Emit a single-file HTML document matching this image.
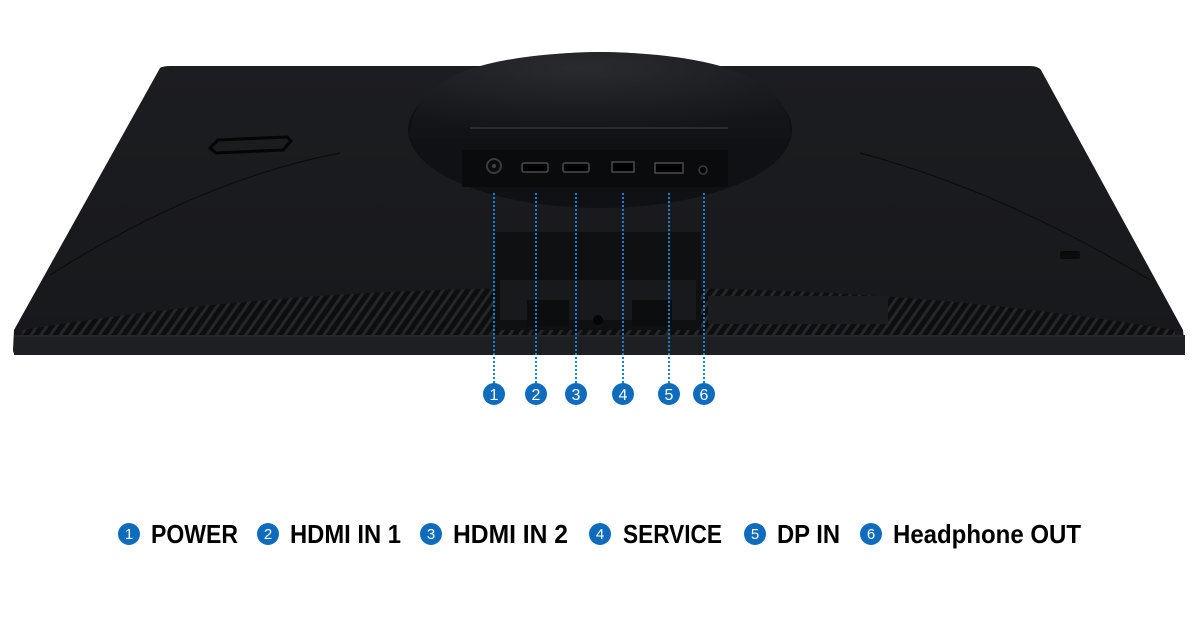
<!DOCTYPE html>
<html><head><meta charset="utf-8"><style>
html,body{margin:0;padding:0;background:#fff;}
svg{display:block}
</style></head><body>
<svg width="1200" height="634" viewBox="0 0 1200 634" xmlns="http://www.w3.org/2000/svg">
<defs>
<linearGradient id="body" x1="0" y1="0" x2="0" y2="1">
<stop offset="0" stop-color="#1c1d20"/><stop offset="1" stop-color="#17181b"/>
</linearGradient>
<radialGradient id="disc" cx="0.45" cy="0.2" r="0.8">
<stop offset="0" stop-color="#2a2b2f"/><stop offset="1" stop-color="#141518"/>
</radialGradient>
<pattern id="vent" width="8" height="8" patternUnits="userSpaceOnUse" patternTransform="rotate(35)">
<rect width="8" height="8" fill="#0d0e10"/><rect width="3" height="8" fill="#25262a"/>
</pattern>
</defs>
<!-- monitor body -->
<path d="M160 68 Q163 66 170 66 L1030 66 Q1038 66 1041 70 L1183 330 L1185 352 Q1185 355 1180 355 L18 355 Q13 355 13 350 L14 330 Z" fill="url(#body)"/>
<!-- vents -->
<path d="M22 330 Q300 285 600 288 Q900 285 1175 330 L1175 336 L22 336 Z" fill="url(#vent)"/>
<rect x="14" y="335" width="1171" height="20" fill="#1e1f22"/>
<line x1="14" y1="336" x2="1185" y2="336" stroke="#2c2d31" stroke-width="1"/>
<!-- panel lines -->
<path d="M50 275 Q200 180 340 153" stroke="#0c0d0f" stroke-width="1.2" fill="none"/>
<path d="M860 153 Q1000 190 1150 280" stroke="#0c0d0f" stroke-width="1.2" fill="none"/>
<!-- logo -->
<path d="M210 148 L218 140 L287 137 L291 141 L283 150 L216 153 Z" fill="none" stroke="#050506" stroke-width="3"/>
<rect x="1060" y="251" width="20" height="8" rx="2" fill="#0b0b0c"/>
<!-- label sticker -->
<rect x="708" y="296" width="180" height="28" fill="#1b1c1f"/>
<!-- stand disc -->
<ellipse cx="600" cy="130" rx="192" ry="78" fill="#101114"/>
<path d="M412 125 Q420 55 600 52 Q780 55 790 125 L790 130 L412 130 Z" fill="url(#disc)"/>
<rect x="410" y="128" width="380" height="10" fill="#121316"/>
<rect x="470" y="127" width="258" height="2" fill="#2a2b2e"/>
<rect x="462" y="150" width="266" height="37" fill="#0a0b0d"/>
<!-- ports -->
<circle cx="494" cy="166" r="7" fill="none" stroke="#3a3b3f" stroke-width="2"/>
<circle cx="494" cy="166" r="2" fill="#444"/>
<rect x="522" y="163" width="26" height="9" rx="2" fill="#000" stroke="#4a4b50" stroke-width="1.5"/>
<rect x="563" y="163" width="26" height="9" rx="2" fill="#000" stroke="#4a4b50" stroke-width="1.5"/>
<rect x="612" y="162" width="22" height="10" fill="#000" stroke="#4a4b50" stroke-width="1.5"/>
<rect x="655" y="163" width="28" height="10" fill="#000" stroke="#4a4b50" stroke-width="1.5"/>
<circle cx="703" cy="170" r="4" fill="#000" stroke="#3a3b3f" stroke-width="1.5"/>
<!-- stand neck -->
<rect x="495" y="232" width="206" height="98" fill="#0f1012"/>
<rect x="500" y="280" width="196" height="40" fill="#18191c"/>
<rect x="527" y="300" width="42" height="26" fill="#0c0d0f"/>
<rect x="632" y="300" width="40" height="26" fill="#0c0d0f"/>
<circle cx="598" cy="320" r="5" fill="#050505"/>
<!-- dotted connectors -->
<g stroke="#1e7fd0" stroke-width="2" stroke-dasharray="2 2">
<line x1="494" y1="193" x2="494" y2="383"/>
<line x1="536" y1="193" x2="536" y2="383"/>
<line x1="576" y1="193" x2="576" y2="383"/>
<line x1="623" y1="193" x2="623" y2="383"/>
<line x1="669" y1="193" x2="669" y2="383"/>
<line x1="704" y1="193" x2="704" y2="383"/>
</g>
<g font-family="Liberation Sans, sans-serif" font-size="16" fill="#fff" text-anchor="middle">
<circle cx="494" cy="394" r="11" fill="#0f6cbd"/><text x="494" y="400">1</text>
<circle cx="536" cy="394" r="11" fill="#0f6cbd"/><text x="536" y="400">2</text>
<circle cx="576" cy="394" r="11" fill="#0f6cbd"/><text x="576" y="400">3</text>
<circle cx="623" cy="394" r="11" fill="#0f6cbd"/><text x="623" y="400">4</text>
<circle cx="669" cy="394" r="11" fill="#0f6cbd"/><text x="669" y="400">5</text>
<circle cx="704" cy="394" r="11" fill="#0f6cbd"/><text x="704" y="400">6</text>
</g>
<!-- legend -->
<g font-family="Liberation Sans, sans-serif" font-size="15" fill="#fff" text-anchor="middle">
<circle cx="129" cy="534" r="11" fill="#0f6cbd"/><text x="129" y="539">1</text>
<circle cx="268" cy="534" r="11" fill="#0f6cbd"/><text x="268" y="539">2</text>
<circle cx="431" cy="534" r="11" fill="#0f6cbd"/><text x="431" y="539">3</text>
<circle cx="600" cy="534" r="11" fill="#0f6cbd"/><text x="600" y="539">4</text>
<circle cx="755" cy="534" r="11" fill="#0f6cbd"/><text x="755" y="539">5</text>
<circle cx="871" cy="534" r="11" fill="#0f6cbd"/><text x="871" y="539">6</text>
</g>
<g font-family="Liberation Sans, sans-serif" font-weight="bold" font-size="26" fill="#000">
<text x="151" y="543" textLength="87" lengthAdjust="spacingAndGlyphs">POWER</text>
<text x="290" y="543" textLength="111" lengthAdjust="spacingAndGlyphs">HDMI IN 1</text>
<text x="453" y="543" textLength="115" lengthAdjust="spacingAndGlyphs">HDMI IN 2</text>
<text x="623" y="543" textLength="99" lengthAdjust="spacingAndGlyphs">SERVICE</text>
<text x="777" y="543" textLength="63" lengthAdjust="spacingAndGlyphs">DP IN</text>
<text x="893" y="543" textLength="188" lengthAdjust="spacingAndGlyphs">Headphone OUT</text>
</g>
</svg>
</body></html>
